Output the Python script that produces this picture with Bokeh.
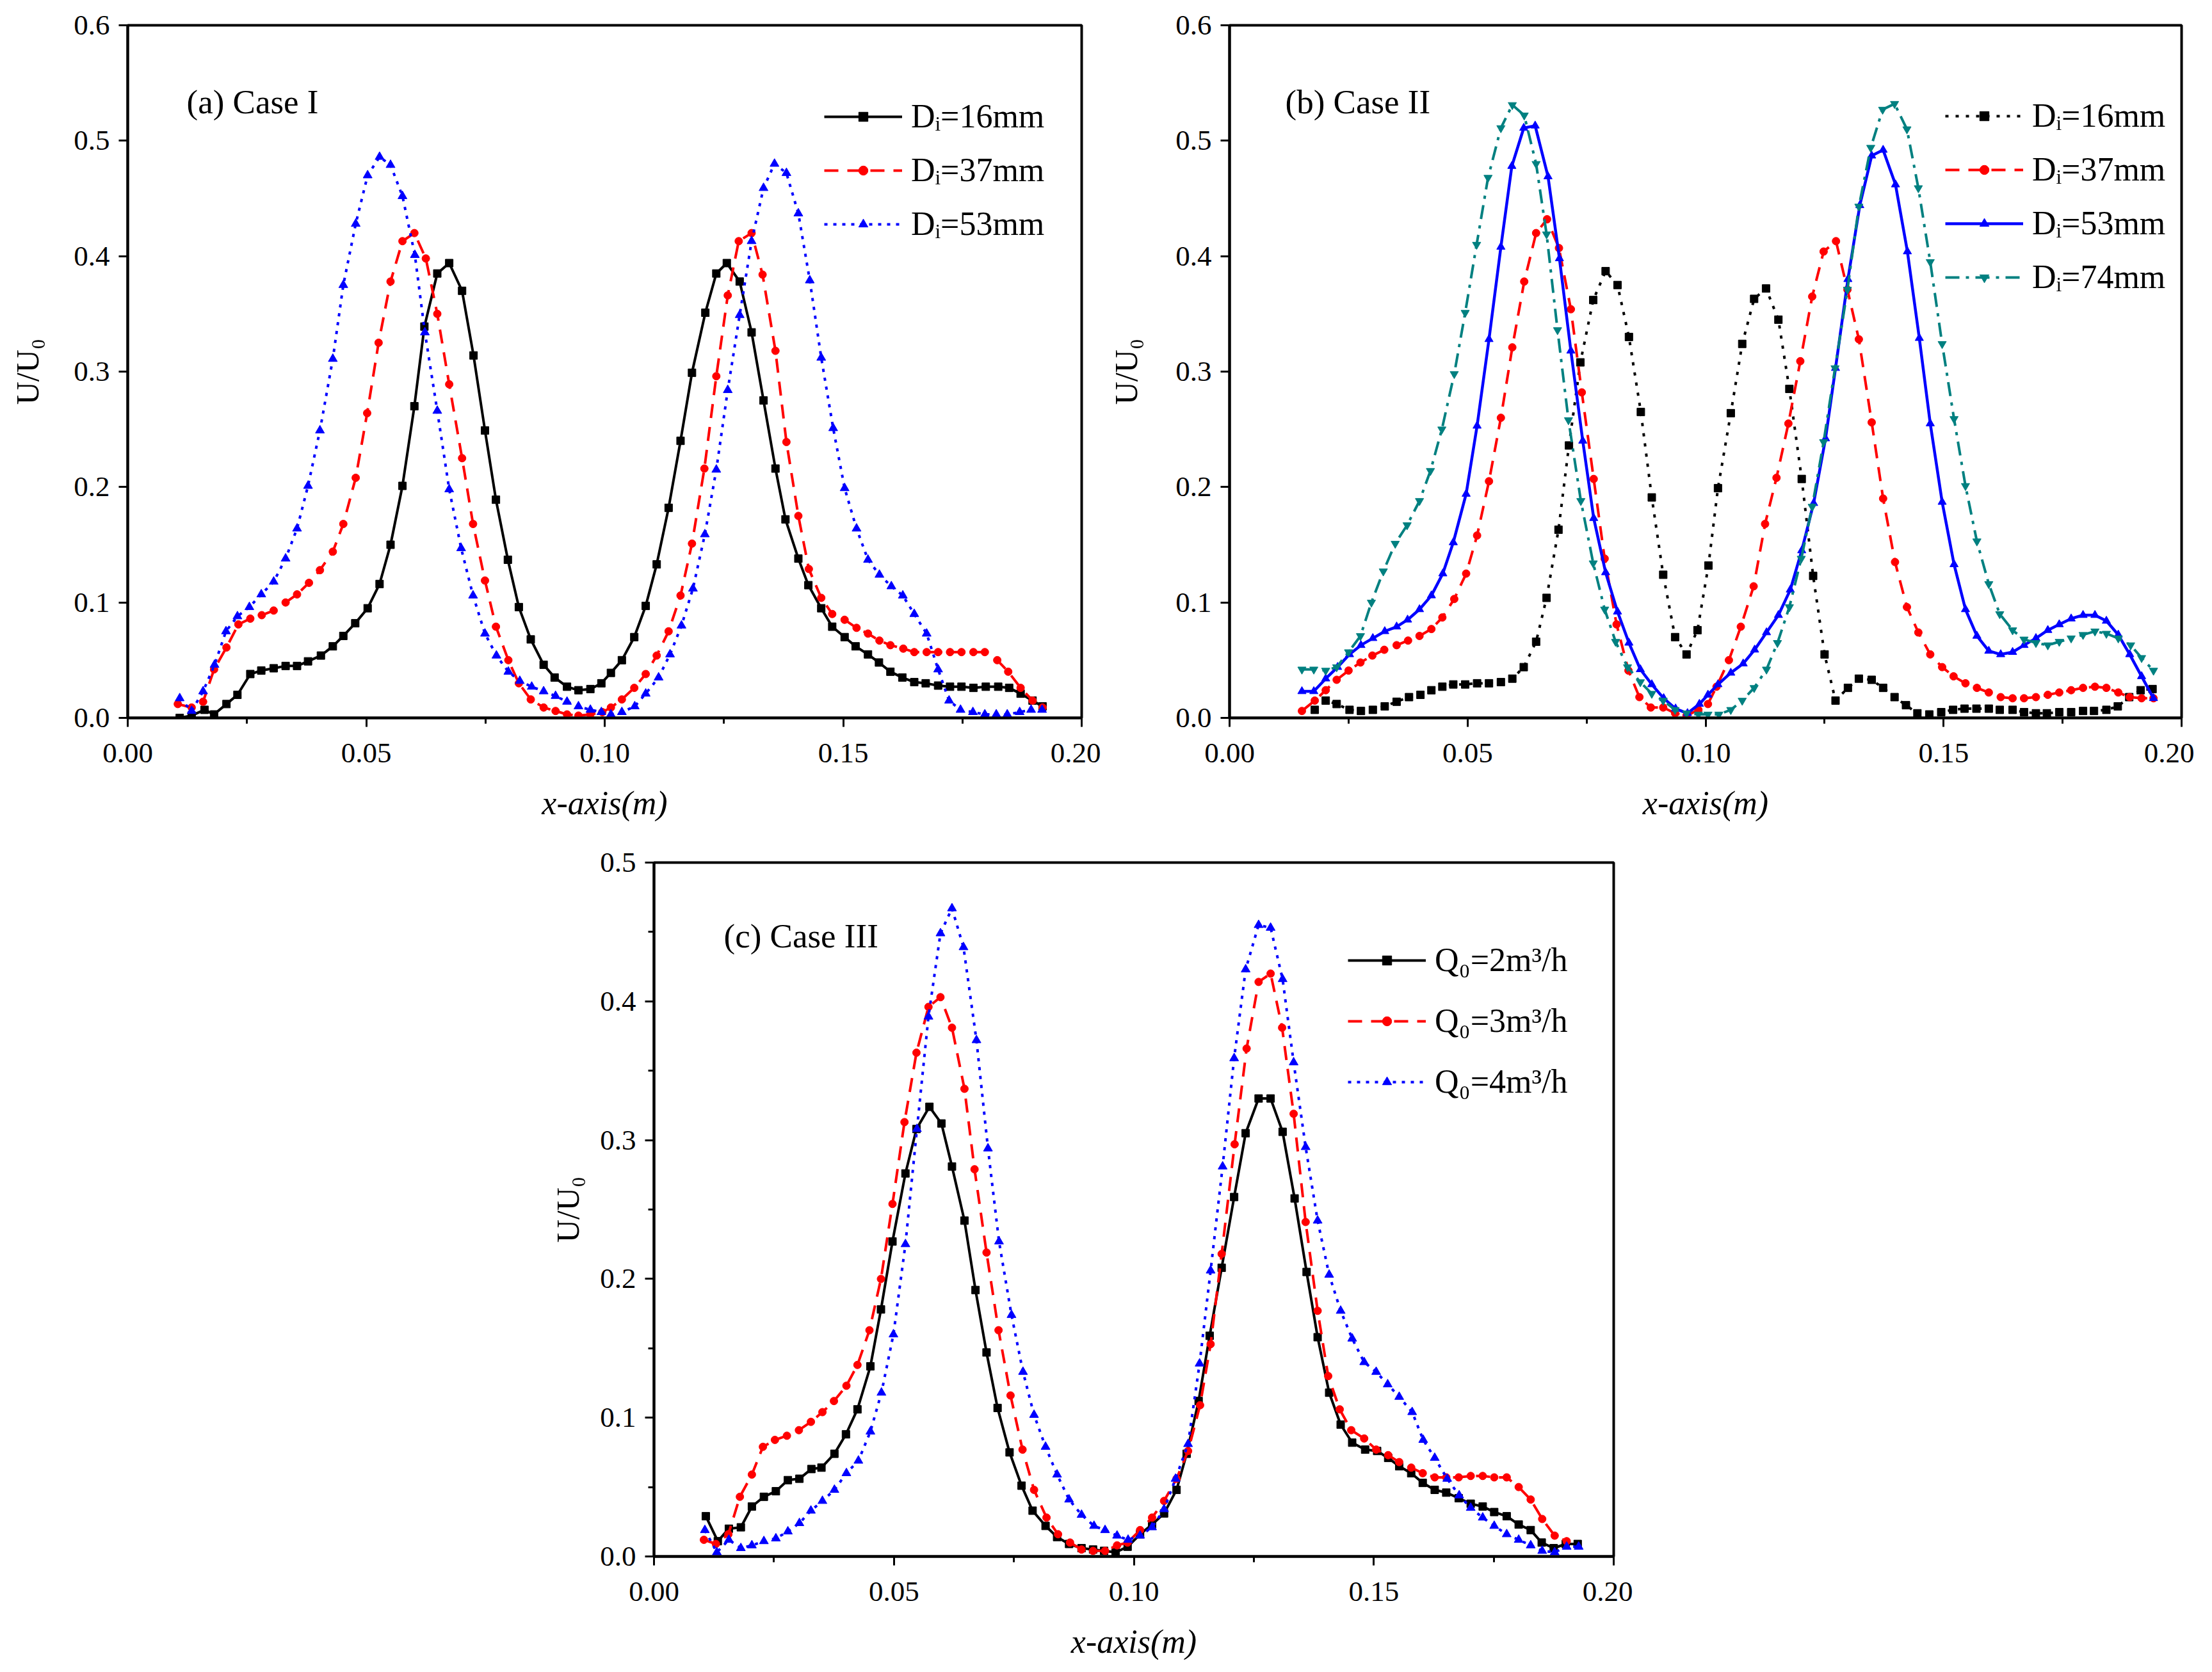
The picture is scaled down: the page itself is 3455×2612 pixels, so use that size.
from bokeh.plotting import figure
from bokeh.models import (Range1d, FixedTicker, NumeralTickFormatter, Label,
                          Legend, LegendItem, Spacer)
from bokeh.layouts import column, row
from bokeh.embed import file_html
from bokeh.resources import INLINE

FONT = "Liberation Serif"

# ---------------- Panel (a) Case I ----------------
A16_X = [0.0109,0.0134,0.0161,0.0181,0.0207,0.0230,0.0257,0.0280,0.0306,0.0331,
         0.0355,0.0378,0.0405,0.0430,0.0452,0.0477,0.0503,0.0528,0.0551,0.0576,
         0.0601,0.0622,0.0649,0.0674,0.0701,0.0725,0.0749,0.0772,0.0797,0.0820,
         0.0845,0.0872,0.0895,0.0921,0.0945,0.0970,0.0993,0.1013,0.1036,0.1062,
         0.1086,0.1109,0.1134,0.1159,0.1183,0.1211,0.1234,0.1256,0.1283,0.1308,
         0.1333,0.1358,0.1379,0.1406,0.1427,0.1454,0.1477,0.1503,0.1526,0.1552,
         0.1575,0.1599,0.1624,0.1649,0.1673,0.1699,0.1724,0.1748,0.1773,0.1799,
         0.1825,0.1848,0.1872,0.1897,0.1918]
A16_Y = [0.000,0.002,0.007,0.003,0.012,0.020,0.038,0.041,0.043,0.045,
         0.045,0.049,0.054,0.062,0.071,0.082,0.095,0.116,0.150,0.201,
         0.270,0.339,0.385,0.394,0.370,0.314,0.249,0.189,0.137,0.096,
         0.068,0.046,0.035,0.027,0.024,0.025,0.030,0.039,0.050,0.070,
         0.097,0.133,0.182,0.240,0.299,0.351,0.385,0.394,0.378,0.334,
         0.275,0.216,0.172,0.138,0.115,0.095,0.079,0.070,0.062,0.055,
         0.048,0.040,0.035,0.031,0.030,0.028,0.027,0.027,0.026,0.027,
         0.027,0.026,0.021,0.015,0.010]

A37_X = [0.0105,0.0134,0.0158,0.0181,0.0207,0.0232,0.0257,0.0281,0.0306,0.0331,
         0.0355,0.0380,0.0403,0.0430,0.0452,0.0478,0.0502,0.0526,0.0551,0.0576,
         0.0601,0.0625,0.0649,0.0674,0.0701,0.0724,0.0749,0.0772,0.0798,0.0820,
         0.0845,0.0872,0.0897,0.0921,0.0945,0.0970,0.0995,0.1013,0.1036,0.1062,
         0.1086,0.1109,0.1134,0.1159,0.1183,0.1209,0.1234,0.1258,0.1281,0.1308,
         0.1331,0.1358,0.1381,0.1406,0.1428,0.1454,0.1477,0.1503,0.1528,0.1552,
         0.1576,0.1599,0.1626,0.1649,0.1675,0.1699,0.1724,0.1748,0.1773,0.1797,
         0.1823,0.1846,0.1872,0.1897,0.1918]
A37_Y = [0.012,0.009,0.014,0.042,0.061,0.081,0.086,0.089,0.093,0.100,
         0.107,0.117,0.128,0.144,0.168,0.208,0.264,0.325,0.378,0.413,
         0.420,0.398,0.350,0.289,0.225,0.168,0.119,0.079,0.050,0.030,
         0.016,0.009,0.006,0.003,0.002,0.003,0.005,0.009,0.016,0.026,
         0.038,0.054,0.075,0.106,0.151,0.216,0.296,0.366,0.413,0.420,
         0.384,0.318,0.239,0.175,0.129,0.104,0.090,0.085,0.078,0.073,
         0.067,0.063,0.060,0.057,0.057,0.057,0.057,0.057,0.057,0.057,
         0.050,0.040,0.026,0.015,0.009]

A53_X = [0.0109,0.0134,0.0158,0.0182,0.0206,0.0230,0.0255,0.0280,0.0306,0.0331,
         0.0355,0.0378,0.0403,0.0430,0.0452,0.0478,0.0503,0.0528,0.0551,0.0576,
         0.0602,0.0623,0.0649,0.0674,0.0699,0.0724,0.0749,0.0773,0.0798,0.0822,
         0.0847,0.0872,0.0897,0.0921,0.0945,0.0970,0.0993,0.1013,0.1036,0.1063,
         0.1086,0.1113,0.1137,0.1161,0.1185,0.1210,0.1234,0.1258,0.1283,0.1308,
         0.1333,0.1356,0.1381,0.1406,0.1430,0.1454,0.1479,0.1503,0.1528,0.1552,
         0.1576,0.1601,0.1625,0.1649,0.1675,0.1699,0.1722,0.1746,0.1772,0.1797,
         0.1821,0.1844,0.1870,0.1894,0.1917]
A53_Y = [0.017,0.006,0.023,0.046,0.075,0.088,0.096,0.107,0.118,0.138,
         0.164,0.201,0.249,0.311,0.375,0.428,0.470,0.486,0.479,0.452,
         0.401,0.334,0.266,0.198,0.147,0.106,0.073,0.054,0.040,0.032,
         0.027,0.023,0.019,0.014,0.010,0.007,0.005,0.003,0.005,0.010,
         0.021,0.035,0.055,0.080,0.112,0.159,0.215,0.284,0.349,0.413,
         0.459,0.480,0.472,0.437,0.379,0.312,0.251,0.199,0.164,0.137,
         0.124,0.114,0.106,0.090,0.073,0.042,0.015,0.007,0.005,0.003,
         0.003,0.003,0.005,0.007,0.007]

# ---------------- Panel (b) Case II ----------------
B16_X = [0.0179,0.0202,0.0225,0.0252,0.0276,0.0301,0.0326,0.0351,0.0377,0.0401,
         0.0424,0.0447,0.0470,0.0495,0.0520,0.0545,0.0570,0.0594,0.0618,0.0644,
         0.0666,0.0691,0.0713,0.0737,0.0764,0.0790,0.0815,0.0839,0.0864,0.0887,
         0.0911,0.0936,0.0960,0.0983,0.1006,0.1026,0.1053,0.1077,0.1102,0.1127,
         0.1153,0.1176,0.1202,0.1226,0.1250,0.1273,0.1299,0.1322,0.1349,0.1373,
         0.1397,0.1421,0.1445,0.1470,0.1495,0.1520,0.1544,0.1569,0.1595,0.1618,
         0.1645,0.1669,0.1694,0.1717,0.1743,0.1768,0.1793,0.1816,0.1842,0.1866,
         0.1890,0.1914,0.1939]
B16_Y = [0.007,0.015,0.012,0.007,0.006,0.007,0.010,0.014,0.018,0.020,
         0.024,0.027,0.029,0.029,0.030,0.030,0.031,0.034,0.044,0.066,
         0.104,0.163,0.236,0.308,0.362,0.387,0.375,0.330,0.265,0.191,
         0.124,0.070,0.055,0.076,0.132,0.199,0.264,0.324,0.363,0.372,
         0.345,0.285,0.207,0.123,0.055,0.015,0.026,0.034,0.033,0.026,
         0.018,0.011,0.004,0.003,0.005,0.007,0.008,0.008,0.008,0.007,
         0.007,0.005,0.004,0.004,0.005,0.005,0.006,0.006,0.007,0.010,
         0.018,0.024,0.025]

B37_X = [0.0152,0.0179,0.0202,0.0225,0.0250,0.0275,0.0300,0.0325,0.0351,0.0375,
         0.0399,0.0424,0.0447,0.0472,0.0497,0.0520,0.0545,0.0570,0.0594,0.0619,
         0.0644,0.0667,0.0692,0.0717,0.0740,0.0765,0.0788,0.0813,0.0838,0.0861,
         0.0885,0.0911,0.0936,0.0960,0.0985,0.1005,0.1023,0.1049,0.1074,0.1101,
         0.1125,0.1149,0.1174,0.1199,0.1224,0.1248,0.1274,0.1298,0.1322,0.1349,
         0.1373,0.1398,0.1423,0.1447,0.1472,0.1497,0.1521,0.1546,0.1570,0.1595,
         0.1620,0.1645,0.1669,0.1694,0.1719,0.1743,0.1768,0.1793,0.1818,0.1842,
         0.1867,0.1891,0.1916,0.1941]
B37_Y = [0.006,0.015,0.024,0.033,0.041,0.048,0.054,0.059,0.063,0.067,
         0.071,0.077,0.087,0.103,0.125,0.158,0.205,0.260,0.321,0.378,
         0.420,0.432,0.407,0.354,0.282,0.207,0.138,0.081,0.041,0.018,
         0.009,0.009,0.004,0.002,0.007,0.012,0.027,0.050,0.079,0.114,
         0.168,0.208,0.255,0.309,0.365,0.404,0.413,0.371,0.328,0.256,
         0.190,0.135,0.096,0.074,0.055,0.044,0.036,0.030,0.026,0.022,
         0.018,0.017,0.017,0.018,0.020,0.022,0.024,0.026,0.027,0.026,
         0.022,0.018,0.017,0.017]

B53_X = [0.0152,0.0177,0.0202,0.0227,0.0252,0.0276,0.0301,0.0326,0.0351,0.0374,
         0.0399,0.0424,0.0448,0.0470,0.0497,0.0520,0.0545,0.0570,0.0593,0.0618,
         0.0642,0.0669,0.0693,0.0717,0.0742,0.0765,0.0790,0.0815,0.0839,0.0863,
         0.0887,0.0912,0.0937,0.0962,0.0987,0.1005,0.1026,0.1053,0.1079,0.1103,
         0.1128,0.1153,0.1178,0.1202,0.1227,0.1252,0.1273,0.1299,0.1324,0.1349,
         0.1373,0.1399,0.1424,0.1449,0.1472,0.1497,0.1522,0.1546,0.1570,0.1595,
         0.1620,0.1645,0.1669,0.1694,0.1719,0.1743,0.1768,0.1793,0.1818,0.1842,
         0.1867,0.1891,0.1916,0.1941]
B53_Y = [0.023,0.023,0.034,0.044,0.055,0.063,0.069,0.075,0.079,0.085,
         0.094,0.106,0.125,0.152,0.194,0.253,0.328,0.408,0.478,0.511,
         0.513,0.469,0.398,0.318,0.240,0.173,0.126,0.092,0.065,0.042,
         0.029,0.017,0.008,0.004,0.012,0.020,0.029,0.039,0.047,0.059,
         0.074,0.089,0.111,0.145,0.186,0.242,0.303,0.380,0.444,0.487,
         0.492,0.462,0.404,0.329,0.255,0.187,0.133,0.094,0.071,0.058,
         0.055,0.057,0.063,0.069,0.076,0.081,0.086,0.089,0.089,0.084,
         0.072,0.055,0.036,0.017]

B74_X = [0.0152,0.0177,0.0202,0.0225,0.0250,0.0275,0.0298,0.0323,0.0348,0.0373,
         0.0399,0.0422,0.0446,0.0472,0.0495,0.0519,0.0543,0.0570,0.0594,0.0619,
         0.0644,0.0666,0.0689,0.0712,0.0738,0.0764,0.0788,0.0811,0.0836,0.0863,
         0.0887,0.0911,0.0936,0.0960,0.0985,0.1005,0.1028,0.1053,0.1077,0.1102,
         0.1128,0.1151,0.1176,0.1201,0.1224,0.1248,0.1272,0.1298,0.1322,0.1347,
         0.1372,0.1397,0.1423,0.1447,0.1472,0.1497,0.1522,0.1546,0.1570,0.1595,
         0.1618,0.1645,0.1669,0.1694,0.1719,0.1743,0.1768,0.1793,0.1818,0.1842,
         0.1867,0.1893,0.1916,0.1941]
B74_Y = [0.042,0.042,0.041,0.044,0.057,0.071,0.100,0.127,0.151,0.167,
         0.188,0.214,0.250,0.298,0.351,0.410,0.468,0.511,0.531,0.522,
         0.480,0.419,0.336,0.258,0.188,0.134,0.094,0.066,0.044,0.031,
         0.021,0.015,0.007,0.004,0.003,0.003,0.003,0.007,0.015,0.026,
         0.042,0.065,0.096,0.138,0.183,0.239,0.303,0.371,0.443,0.494,
         0.527,0.532,0.510,0.459,0.395,0.324,0.259,0.201,0.153,0.116,
         0.090,0.076,0.068,0.065,0.063,0.066,0.069,0.072,0.075,0.073,
         0.069,0.063,0.052,0.041]

# ---------------- Panel (c) Case III ----------------
C2_X = [0.0108,0.0133,0.0156,0.0181,0.0204,0.0229,0.0254,0.0279,0.0303,0.0328,
        0.0349,0.0376,0.0400,0.0424,0.0451,0.0473,0.0497,0.0524,0.0547,0.0574,
        0.0599,0.0621,0.0647,0.0670,0.0693,0.0716,0.0741,0.0766,0.0789,0.0816,
        0.0840,0.0865,0.0891,0.0915,0.0938,0.0962,0.0987,0.1013,0.1038,0.1063,
        0.1089,0.1110,0.1135,0.1158,0.1183,0.1209,0.1233,0.1260,0.1285,0.1310,
        0.1335,0.1360,0.1383,0.1407,0.1431,0.1455,0.1482,0.1507,0.1530,0.1553,
        0.1578,0.1602,0.1627,0.1651,0.1677,0.1702,0.1727,0.1751,0.1777,0.1802,
        0.1827,0.1850,0.1875,0.1900,0.1925]
C2_Y = [0.029,0.011,0.020,0.021,0.036,0.043,0.047,0.055,0.056,0.063,
        0.064,0.074,0.088,0.106,0.137,0.178,0.227,0.276,0.308,0.324,
        0.312,0.281,0.242,0.192,0.147,0.107,0.075,0.051,0.033,0.022,
        0.014,0.009,0.006,0.005,0.004,0.003,0.007,0.016,0.023,0.031,
        0.048,0.074,0.112,0.159,0.208,0.259,0.305,0.330,0.330,0.306,
        0.258,0.205,0.158,0.118,0.095,0.082,0.077,0.076,0.071,0.065,
        0.060,0.053,0.048,0.046,0.042,0.038,0.036,0.032,0.029,0.023,
        0.019,0.010,0.006,0.009,0.009]

C3_X = [0.0104,0.0129,0.0155,0.0179,0.0204,0.0227,0.0252,0.0277,0.0302,0.0327,
        0.0351,0.0375,0.0401,0.0424,0.0449,0.0473,0.0497,0.0522,0.0547,0.0572,
        0.0597,0.0621,0.0647,0.0668,0.0693,0.0718,0.0743,0.0768,0.0792,0.0818,
        0.0842,0.0867,0.0891,0.0915,0.0940,0.0965,0.0987,0.1013,0.1038,0.1063,
        0.1089,0.1113,0.1138,0.1160,0.1183,0.1210,0.1235,0.1260,0.1285,0.1309,
        0.1333,0.1358,0.1383,0.1405,0.1429,0.1453,0.1480,0.1505,0.1530,0.1553,
        0.1578,0.1602,0.1627,0.1651,0.1677,0.1702,0.1727,0.1751,0.1777,0.1802,
        0.1827,0.1851,0.1877,0.1902]
C3_Y = [0.012,0.009,0.016,0.043,0.059,0.079,0.084,0.087,0.091,0.097,
        0.104,0.112,0.123,0.138,0.163,0.200,0.254,0.313,0.363,0.396,
        0.403,0.381,0.337,0.279,0.219,0.163,0.116,0.077,0.048,0.028,
        0.016,0.010,0.005,0.004,0.004,0.008,0.010,0.019,0.028,0.040,
        0.056,0.076,0.109,0.153,0.218,0.297,0.366,0.414,0.420,0.381,
        0.319,0.241,0.177,0.130,0.106,0.091,0.085,0.077,0.073,0.068,
        0.064,0.060,0.057,0.057,0.057,0.058,0.058,0.057,0.057,0.050,
        0.041,0.027,0.015,0.011]

C4_X = [0.0106,0.0131,0.0156,0.0181,0.0204,0.0229,0.0254,0.0279,0.0303,0.0327,
        0.0351,0.0376,0.0401,0.0426,0.0451,0.0474,0.0499,0.0524,0.0548,0.0572,
        0.0597,0.0621,0.0645,0.0672,0.0696,0.0719,0.0745,0.0769,0.0792,0.0816,
        0.0840,0.0865,0.0891,0.0917,0.0940,0.0965,0.0988,0.1013,0.1038,0.1063,
        0.1087,0.1113,0.1137,0.1160,0.1185,0.1209,0.1233,0.1260,0.1285,0.1310,
        0.1333,0.1358,0.1383,0.1407,0.1431,0.1455,0.1480,0.1505,0.1529,0.1553,
        0.1580,0.1603,0.1627,0.1653,0.1678,0.1702,0.1727,0.1751,0.1777,0.1802,
        0.1827,0.1851,0.1877,0.1902,0.1927]
C4_Y = [0.019,0.003,0.012,0.006,0.008,0.011,0.013,0.018,0.024,0.033,
        0.040,0.048,0.060,0.069,0.090,0.118,0.160,0.225,0.308,0.389,
        0.449,0.467,0.439,0.372,0.294,0.227,0.174,0.133,0.102,0.079,
        0.059,0.041,0.030,0.022,0.019,0.015,0.012,0.015,0.021,0.034,
        0.056,0.081,0.139,0.206,0.281,0.359,0.423,0.455,0.453,0.416,
        0.356,0.295,0.242,0.203,0.177,0.157,0.140,0.133,0.124,0.115,
        0.104,0.084,0.071,0.056,0.044,0.035,0.028,0.022,0.016,0.012,
        0.008,0.004,0.003,0.007,0.007]

# ---------------- ticks ----------------
X_TICKS = [0.0, 0.05, 0.10, 0.15, 0.20]
X_MINOR = [0.025, 0.075, 0.125, 0.175]
Y_TICKS_06 = [0.0, 0.1, 0.2, 0.3, 0.4, 0.5, 0.6]
Y_TICKS_05 = [0.0, 0.1, 0.2, 0.3, 0.4, 0.5]
Y_MINOR_05 = [0.05, 0.15, 0.25, 0.35, 0.45]
X_TICK_FMT = "0.00"
Y_TICK_FMT = "0.0"


def make_fig(fw, fh, bl, bt, br, bb, ymax, yticks, yminor, ylab_standoff):
    p = figure(frame_width=fw, frame_height=fh,
               min_border_left=bl, min_border_top=bt, min_border_right=br, min_border_bottom=bb,
               x_range=Range1d(0, 0.2), y_range=Range1d(0, ymax),
               output_backend="svg", toolbar_location=None)
    p.xgrid.visible = False
    p.ygrid.visible = False
    p.outline_line_color = "black"
    p.outline_line_width = 4
    p.outline_line_alpha = 1
    p.background_fill_color = "white"
    p.border_fill_color = "white"
    xa = p.xaxis[0]
    ya = p.yaxis[0]
    xa.ticker = FixedTicker(ticks=X_TICKS, minor_ticks=X_MINOR)
    ya.ticker = FixedTicker(ticks=yticks, minor_ticks=yminor)
    xa.formatter = NumeralTickFormatter(format=X_TICK_FMT)
    ya.formatter = NumeralTickFormatter(format=Y_TICK_FMT)
    for ax in (xa, ya):
        ax.axis_line_width = 4
        ax.axis_line_color = "black"
        ax.major_tick_line_width = 3
        ax.minor_tick_line_width = 3
        ax.major_tick_line_color = "black"
        ax.minor_tick_line_color = "black"
        ax.major_tick_in = 0
        ax.major_tick_out = 14
        ax.minor_tick_in = 0
        ax.minor_tick_out = 9
        ax.major_label_text_font = FONT
        ax.major_label_text_font_size = "45px"
        ax.major_label_text_color = "black"
        ax.axis_label_text_font = FONT
        ax.axis_label_text_color = "black"
    xa.major_label_standoff = 26
    ya.major_label_standoff = 14
    ya.axis_label = "U/U\u2080"
    ya.axis_label_text_font_style = "normal"
    ya.axis_label_text_font_size = "50px"
    ya.axis_label_standoff = ylab_standoff
    xa.axis_label = "x-axis(m)"
    xa.axis_label_text_font_style = "italic"
    xa.axis_label_text_font_size = "52px"
    xa.axis_label_standoff = 32
    return p


def add_title(p, text, x, y):
    p.add_layout(Label(x=x, y=y, x_units="screen", y_units="screen", text=text,
                       text_font=FONT, text_font_size="53px", text_align="left",
                       text_baseline="middle", text_color="black"))


def add_series(p, xs, ys, color, dash, width, marker, msize):
    lr = p.line(xs, ys, line_color=color, line_width=width, line_dash=dash)
    sr = p.scatter(xs, ys, marker=marker, size=msize, fill_color=color, line_color=color)
    return [lr, sr]


def add_legend(p, items, vx, vy, spacing):
    leg = Legend(items=[LegendItem(label=t, renderers=r) for t, r in items],
                 location=(vx, vy), orientation="vertical",
                 glyph_width=122, glyph_height=36, label_height=58, label_width=10,
                 label_standoff=14, spacing=spacing, padding=0, margin=0,
                 border_line_color=None, background_fill_alpha=0,
                 label_text_font=FONT, label_text_font_size="52px", label_text_color="black")
    p.add_layout(leg)


# ---- (a) ----
pa = make_fig(1490, 1082, 199, 39, 30, 180, 0.6, Y_TICKS_06, [], 41)
ra1 = add_series(pa, A16_X, A16_Y, "black", "solid", 4, "square", 12)
ra2 = add_series(pa, A37_X, A37_Y, "red", "22 14", 4, "circle", 12)
ra3 = add_series(pa, A53_X, A53_Y, "blue", "5 9", 4, "triangle", 14)
add_legend(pa, [("D\u1d62=16mm", ra1), ("D\u1d62=37mm", ra2), ("D\u1d62=53mm", ra3)],
           1088, 742, 25)
add_title(pa, "(a) Case I", 92, 1082 - 119)

# ---- (b) ----
pb = make_fig(1487, 1082, 201, 39, 20, 180, 0.6, Y_TICKS_06, [], 46)
rb1 = add_series(pb, B16_X, B16_Y, "black", "5 11", 4, "square", 12)
rb2 = add_series(pb, B37_X, B37_Y, "red", "22 14", 4, "circle", 12)
rb3 = add_series(pb, B53_X, B53_Y, "blue", "solid", 4.5, "triangle", 13)
rb4 = add_series(pb, B74_X, B74_Y, "#008080", "22 10 5 10", 4, "inverted_triangle", 13)
add_legend(pb, [("D\u1d62=16mm", rb1), ("D\u1d62=37mm", rb2), ("D\u1d62=53mm", rb3),
                ("D\u1d62=74mm", rb4)], 1118, 659, 25)
add_title(pb, "(b) Case II", 87, 1082 - 119)

# ---- (c) ----
pc = make_fig(1499, 1084, 190, 46, 30, 158, 0.5, Y_TICKS_05, Y_MINOR_05, 19)
rc1 = add_series(pc, C2_X, C2_Y, "black", "solid", 4, "square", 12)
rc2 = add_series(pc, C3_X, C3_Y, "red", "22 14", 4, "circle", 12)
rc3 = add_series(pc, C4_X, C4_Y, "blue", "5 9", 4, "triangle", 14)
add_legend(pc, [("Q\u2080=2m\u00b3/h", rc1), ("Q\u2080=3m\u00b3/h", rc2), ("Q\u2080=4m\u00b3/h", rc3)],
           1084, 712, 36)
add_title(pc, "(c) Case III", 109, 1084 - 114)

layout = column(row(pa, pb), row(Spacer(width=831, height=10), pc))

with open("out.html", "w") as f:
    f.write(file_html(layout, INLINE))
